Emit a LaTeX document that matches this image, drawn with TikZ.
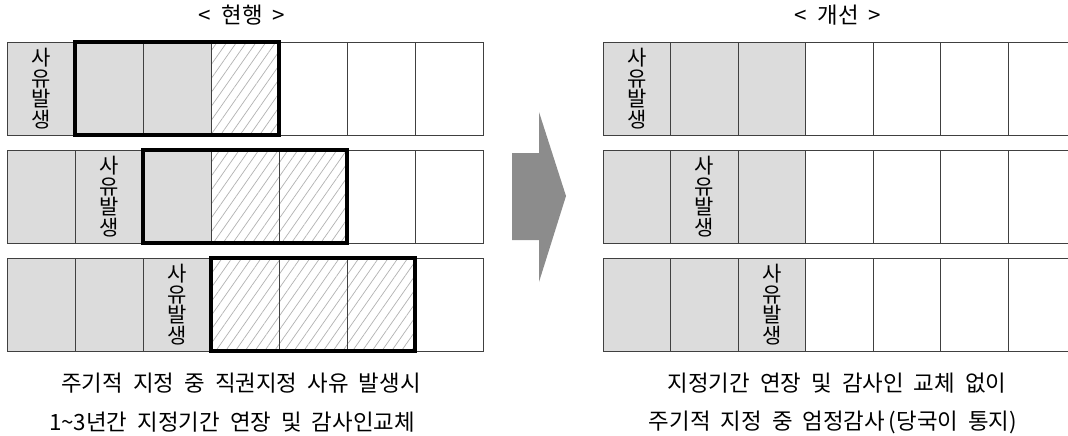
\documentclass[tikz,border=0pt]{standalone}
\usepackage{fontspec}
\setmainfont{Noto Sans CJK KR}[WordSpace=2.0]
\usetikzlibrary{positioning, patterns.meta}

\definecolor{zellgrau}{RGB}{220,220,220}
\definecolor{pfeilgrau}{RGB}{140,140,140}

\tikzset{
  zelle/.style={draw=black!75, line width=0.8pt, minimum width=68pt, minimum height=93pt,
    inner sep=0pt, outer sep=0pt, anchor=north west},
  zelleR/.style={zelle, minimum width=67.5pt},
  schraffur/.style={pattern={Lines[angle=55,distance=8pt,line width=0.7pt]}, pattern color=black!30},
  rahmen/.style={draw, line width=4.8pt},
  ereignis/.style={font=\fontsize{21}{20.5}\selectfont, align=center, inner sep=0pt},
  titel/.style={font=\fontsize{22.4}{24}\selectfont, inner sep=0pt},
}

\begin{document}
\begin{tikzpicture}[x=1pt, y=-1pt]
\useasboundingbox (0,0) rectangle (1068,436);

% Ueberschriften
\node[titel] (alt) at (242,15) {< 현행 >};
\node[titel] (neu) at (838,15) {< 개선 >};

% linke Seite
\foreach \r/\y in {1/42,2/150,3/258}{
  \foreach \c in {1,...,7}{
    \ifnum\c<4 \def\farbe{zellgrau}\else\def\farbe{white}\fi
    \node[zelle, fill=\farbe] (l\r\c) at ({7+68*(\c-1)},\y) {};
  }
}

% Schraffur
\foreach \z in {l14,l24,l25,l34,l35,l36}{
  \path[schraffur] (\z.north west) rectangle (\z.south east);
  \draw[black!75, line width=0.8pt] (\z.north west) rectangle (\z.south east);
}

% Rahmen
\draw[rahmen] (l12.north west) rectangle (l14.south east);
\draw[rahmen] (l23.north west) rectangle (l25.south east);
\draw[rahmen] (l34.north west) rectangle (l36.south east);

\node[ereignis] (el1) at (l11) {사\\유\\발\\생};
\node[ereignis] (el2) at (l22) {사\\유\\발\\생};
\node[ereignis] (el3) at (l33) {사\\유\\발\\생};

% Pfeil
\fill[pfeilgrau] (512,153) -- (539,153) -- (539,112) -- (566,196)
  -- (539,282) -- (539,240) -- (512,240) -- cycle;

% rechte Seite
\foreach \r/\y in {1/42,2/150,3/258}{
  \foreach \c in {1,...,7}{
    \ifnum\c<4 \def\farbe{zellgrau}\else\def\farbe{white}\fi
    \node[zelleR, fill=\farbe] (r\r\c) at ({603+67.5*(\c-1)},\y) {};
  }
}

\node[ereignis] (er1) at (r11) {사\\유\\발\\생};
\node[ereignis] (er2) at (r22) {사\\유\\발\\생};
\node[ereignis] (er3) at (r33) {사\\유\\발\\생};

% Beschriftung
\node[titel] (ua1) at (241,383) {주기적 지정 중 직권지정 사유 발생시};
\node[titel] (ua2) at (232,422) {1\textasciitilde 3년간 지정기간 연장 및 감사인교체};
\node[titel] (un1) at (837,383) {지정기간 연장 및 감사인 교체 없이};
\node[titel] (un2) at (833,422) {주기적 지정 중 엄정감사\,(당국이 통지)};

\end{tikzpicture}
\end{document}
